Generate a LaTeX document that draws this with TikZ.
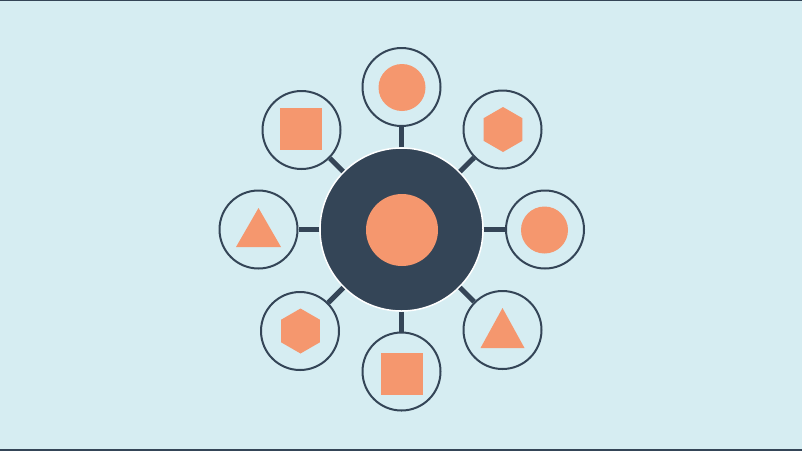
\documentclass[tikz,border=0pt]{standalone}
\usetikzlibrary{shapes.geometric,calc}
\definecolor{bg}{HTML}{D6EDF2}
\definecolor{navy}{HTML}{344557}
\definecolor{coral}{HTML}{F5976E}
\tikzset{
  satellite/.style={circle, draw=navy, line width=2pt, fill=bg, minimum size=78pt, inner sep=0pt},
  hub/.style={circle, draw=white, line width=1.5pt, fill=navy, minimum size=163pt, inner sep=0pt},
  link/.style={draw=navy, line width=5pt},
  dot/.style={circle, fill=coral, minimum size=47pt, inner sep=0pt},
  bigdot/.style={circle, fill=coral, minimum size=72pt, inner sep=0pt},
  sq/.style={rectangle, fill=coral, minimum size=42pt, inner sep=0pt},
  hexa/.style={regular polygon, regular polygon sides=6, fill=coral, minimum size=45pt, inner sep=0pt, shape border rotate=30},
  tri/.style={fill=coral},
}
\begin{document}
\begin{tikzpicture}[x=1pt,y=-1pt]
\useasboundingbox (0,0) rectangle (802,451);
\fill[bg] (0,0) rectangle (802,451);
\fill[navy] (0,0) rectangle (802,1.2);
\fill[navy] (0,449) rectangle (802,451);
\node[hub] (hub) at (401.5,229.5) {};
\node[bigdot] (core) at (402,230) {};
% satellites
\node[satellite] (sN)  at (401.5,87) {};
\node[satellite] (sNE) at (502.5,129.5) {};
\node[satellite] (sE)  at (545,229.5) {};
\node[satellite] (sSE) at (502.5,330) {};
\node[satellite] (sS)  at (401.5,371.5) {};
\node[satellite] (sSW) at (300,331) {};
\node[satellite] (sW)  at (258.5,229.5) {};
\node[satellite] (sNW) at (301.5,130) {};
% connectors
\foreach \s in {sN,sNE,sE,sSE,sS,sSW,sW,sNW}
  \draw[link] (hub) -- (\s);
% shapes inside satellites
\node[dot] (dN) at (402,87.5) {};
\node[hexa] (hNE) at (503,129.5) {};
\node[dot] (dE) at (544.5,230) {};
\fill[tri] ($(sSE)+(-22,18)$) -- ($(sSE)+(22,18)$) -- ($(sSE)+(0,-22)$) -- cycle;
\node[sq] (qS) at (402,373.5) {};
\node[hexa] (hSW) at (300.5,331) {};
\fill[tri] ($(sW)+(-22.5,17.5)$) -- ($(sW)+(22.5,17.5)$) -- ($(sW)+(0,-21.5)$) -- cycle;
\node[sq] (qNW) at (301,129) {};
\end{tikzpicture}
\end{document}
